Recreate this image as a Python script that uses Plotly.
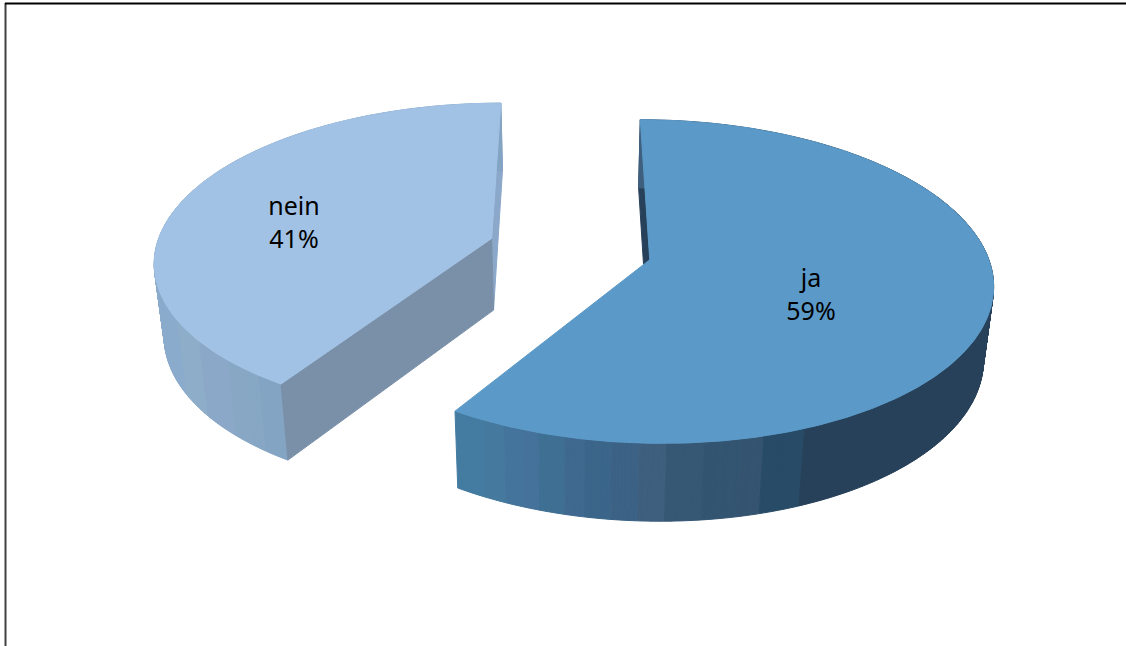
import numpy as np
import plotly.graph_objects as go

categories = ["ja", "nein"]
values = [59, 41]
percent_labels = ["59%", "41%"]
top_colors = ["#5B9AC8", "#A2C2E5"]
cut_colors = ["#27415A", "#7A90A9"]
back_colors = ["#27415A", "#8BA7C9"]
# wall colour bands: (right-hand screen limit, colour)
wall_bands = [
    [(484, "#447BA1"), (505, "#457A9E"), (523, "#44749B"), (540, "#45729A"), (565, "#3F7093"),
     (585, "#406990"), (612, "#3B668A"), (640, "#3C6285"), (668, "#3F5F7F"), (705, "#375875"),
     (740, "#335571"), (765, "#355470"), (805, "#284C68"), (2000, "#27415A")],
    [(178, "#8BABCC"), (200, "#8DADC8"), (228, "#8BA8C8"), (258, "#87A7C5"), (2000, "#84A4C4")],
]

# projection of the pie plane on the page
X0, Y0 = 570.0, 249.0
A, B = 336.0, 156.0
P = 0.1335
EXPLODE = 0.245
BASE_SX, BASE_SY, BASE_Y0 = 0.976, 1.03, 321.0


def project(wx, wv):
    s = 1.0 / (1.0 - P * wv)
    return X0 + A * wx * s, Y0 + B * wv * s


def lower(x, y):
    return X0 + (x - X0) * BASE_SX, BASE_Y0 + BASE_SY * (y - Y0)


def poly(xs, ys, color):
    return go.Scatter(x=list(xs), y=list(ys), mode="lines", fill="toself", fillcolor=color,
                      line=dict(color=color, width=1), hoverinfo="skip", showlegend=False)


fig = go.Figure()
total = sum(values)
start = 0.0
label_pos = [(811, 297), (294, 225)]
traces_top = []
for i, v in enumerate(values):
    sweep = 360.0 * v / total
    mid = np.radians(start + sweep / 2)
    cx, cv = EXPLODE * np.sin(mid), -EXPLODE * np.cos(mid)
    t = np.radians(np.linspace(start, start + sweep, int(sweep * 2) + 1))
    rx, ry = project(cx + np.sin(t), cv - np.cos(t))
    ax, ay = project(cx, cv)
    bx, by = lower(rx, ry)
    apx, apy = lower(ax, ay)

    # face at the back of the slice
    e = -1 if i == 1 else 0
    fig.add_trace(poly([ax, rx[e], bx[e], apx, ax], [ay, ry[e], by[e], apy, ay], back_colors[i]))

    # outer wall: one small quad per step, gathered by colour band
    limits = [b[0] for b in wall_bands[i]]
    idx = np.searchsorted(limits, (rx[:-1] + rx[1:]) / 2)
    for b in range(len(limits)):
        qx, qy = [], []
        for k in np.nonzero(idx == b)[0]:
            qx += [rx[k], rx[k + 1], bx[k + 1], bx[k], rx[k], None]
            qy += [ry[k], ry[k + 1], by[k + 1], by[k], ry[k], None]
        if qx:
            fig.add_trace(poly(qx, qy, wall_bands[i][b][1]))

    if i == 1:
        # cut face in front of the wall
        fig.add_trace(poly([ax, rx[0], bx[0], apx, ax], [ay, ry[0], by[0], apy, ay], cut_colors[i]))
    # top
    traces_top.append(poly(np.r_[ax, rx, ax], np.r_[ay, ry, ay], top_colors[i]))
    start += sweep

fig.add_traces(traces_top)

fig.add_trace(go.Scatter(
    x=[p[0] for p in label_pos], y=[p[1] for p in label_pos], mode="text",
    text=[f"{c}<br>{p}" for c, p in zip(categories, percent_labels)],
    textposition="middle center",
    textfont=dict(family="Noto Sans", size=25, color="#000000"),
    hoverinfo="skip", showlegend=False))

fig.add_shape(type="line", x0=5.5, x1=5.5, y0=3, y1=646, line=dict(color="#404040", width=2))
fig.add_shape(type="line", x0=5, x1=1126, y0=3.5, y1=3.5, line=dict(color="#000000", width=2))

fig.update_xaxes(range=[0, 1126], visible=False, fixedrange=True)
fig.update_yaxes(range=[646, 0], visible=False, fixedrange=True)
fig.update_layout(width=1126, height=646, margin=dict(l=0, r=0, t=0, b=0),
                  paper_bgcolor="white", plot_bgcolor="white", showlegend=False)
fig.write_html("out.html", config={"displayModeBar": False},
               post_script="document.body.style.margin='0';document.body.style.overflow='hidden';")
